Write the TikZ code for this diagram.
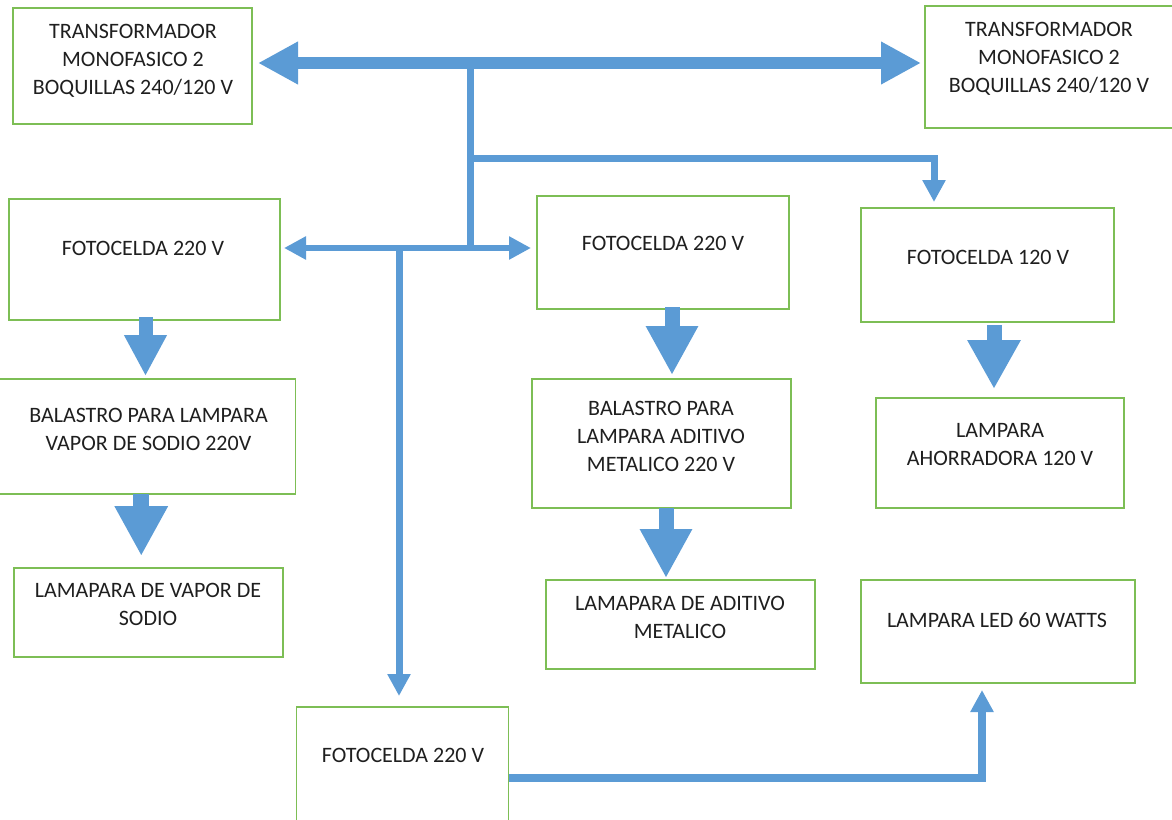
\documentclass[tikz,border=0pt]{standalone}
\usepackage{fontspec}
\setmainfont{Carlito}
\usetikzlibrary{arrows.meta}
\definecolor{bgreen}{RGB}{125,190,85}
\definecolor{ablue}{RGB}{91,155,213}
\newcommand{\mkbox}[5]{\node[box,minimum width={(#4)-(#2)},minimum height={(#5)-(#3)}] (#1) at ({((#2)+(#4))/2},{((#3)+(#5))/2}) {};}
\tikzset{
  box/.style={draw=bgreen, line width=1.6pt, inner sep=0pt, outer sep=0pt},
  txt/.style={font=\fontsize{22}{28}\selectfont, align=center, inner sep=0pt, text=black!88},
  busline/.style={draw=ablue, line width=12pt, {Triangle[length=40pt,width=40pt]}-{Triangle[length=40pt,width=40pt]}},
  thinline/.style={draw=ablue, line width=7pt, line join=miter},
  smalltip/.style={-{Triangle[length=22pt,width=22pt]}},
  twotips/.style={{Triangle[length=22pt,width=22pt]}-{Triangle[length=22pt,width=22pt]}},
  blockarrow/.style n args={3}{draw=ablue, line width=#1pt, -{Triangle[length=#3pt,width=#2pt]}}
}
\begin{document}
\begin{tikzpicture}[x=1pt,y=-1pt]
\useasboundingbox (0,0) rectangle (1172,819);
% boxes
\mkbox{t1}{13}{8}{252}{124}
\mkbox{t2}{925}{6}{1175}{128}
\mkbox{f1}{9}{199}{280}{320}
\mkbox{f2}{537}{196}{789}{309}
\mkbox{f3}{861}{208}{1114}{322}
\mkbox{b1}{-3}{379}{295.5}{494}
\mkbox{l1}{14}{568}{283}{657}
\mkbox{b2}{532}{379}{791}{508}
\mkbox{l2}{546}{580}{815}{669}
\mkbox{a2}{876}{398}{1124}{508}
\mkbox{led}{861}{580}{1135}{683}
\mkbox{f4}{296.5}{707}{508.6}{840}
% texts
\node[txt] at (133,61) {TRANSFORMADOR\\MONOFASICO 2\\BOQUILLAS 240/120 V};
\node[txt] at (1049,59) {TRANSFORMADOR\\MONOFASICO 2\\BOQUILLAS 240/120 V};
\node[txt] at (143,248) {FOTOCELDA 220 V};
\node[txt] at (663,243) {FOTOCELDA 220 V};
\node[txt] at (988,257) {FOTOCELDA 120 V};
\node[txt] at (148.5,429) {BALASTRO PARA LAMPARA\\VAPOR DE SODIO 220V};
\node[txt] at (148,604) {LAMAPARA DE VAPOR DE\\SODIO};
\node[txt] at (661,436) {BALASTRO PARA\\LAMPARA ADITIVO\\METALICO 220 V};
\node[txt] at (680,617) {LAMAPARA DE ADITIVO\\METALICO};
\node[txt] at (1000,445) {LAMPARA\\AHORRADORA 120 V};
\node[txt] at (997,620) {LAMPARA LED 60 WATTS};
\node[txt] at (403,755) {FOTOCELDA 220 V};
% junctions
\coordinate (bus) at (470,63);
\coordinate (j) at (470,248);
\coordinate (j2) at (399,248);
\coordinate (br) at (470,158);
\coordinate (brc) at (934,158);
\coordinate (bc) at (982,778);
% thin connectors
\draw[thinline] (bus) -- (j);
\draw[busline, shorten <=6pt, shorten >=4pt] (t1.east |- bus) -- (t2.west |- bus);
\draw[thinline, line width=6.5pt, twotips, shorten <=4pt, shorten >=6pt] (f1.east |- j) -- (f2.west |- j);
\draw[thinline, smalltip, shorten >=6pt] (br) -- (brc) -- (brc |- f3.north);
\draw[thinline, smalltip, shorten >=11pt] (j2) -- (j2 |- f4.north);
\draw[thinline, line width=8pt, smalltip, shorten >=7pt] (f4.east |- bc) -- (bc) -- (bc |- led.south);
% block arrows
\draw[blockarrow={14}{40}{41}, shorten >=3pt] ([xshift=1pt,yshift=3pt]f1.south) -- ([xshift=1pt]f1.south |- b1.north);
\draw[blockarrow={16}{50}{50}, shorten >=12pt] ([xshift=-5pt]b1.south) -- ([xshift=-5pt]b1.south |- l1.north);
\draw[blockarrow={15}{49}{49}, shorten >=4pt] ([xshift=9pt,yshift=2pt]f2.south) -- ([xshift=9pt]f2.south |- b2.north);
\draw[blockarrow={15}{49}{49}, shorten >=2pt] ([xshift=4.5pt]b2.south) -- ([xshift=4.5pt]b2.south |- l2.north);
\draw[blockarrow={15}{50}{49}, shorten >=9pt] ([xshift=6.5pt,yshift=-3pt]f3.south) -- ([xshift=6.5pt]f3.south |- a2.north);
\end{tikzpicture}
\end{document}
